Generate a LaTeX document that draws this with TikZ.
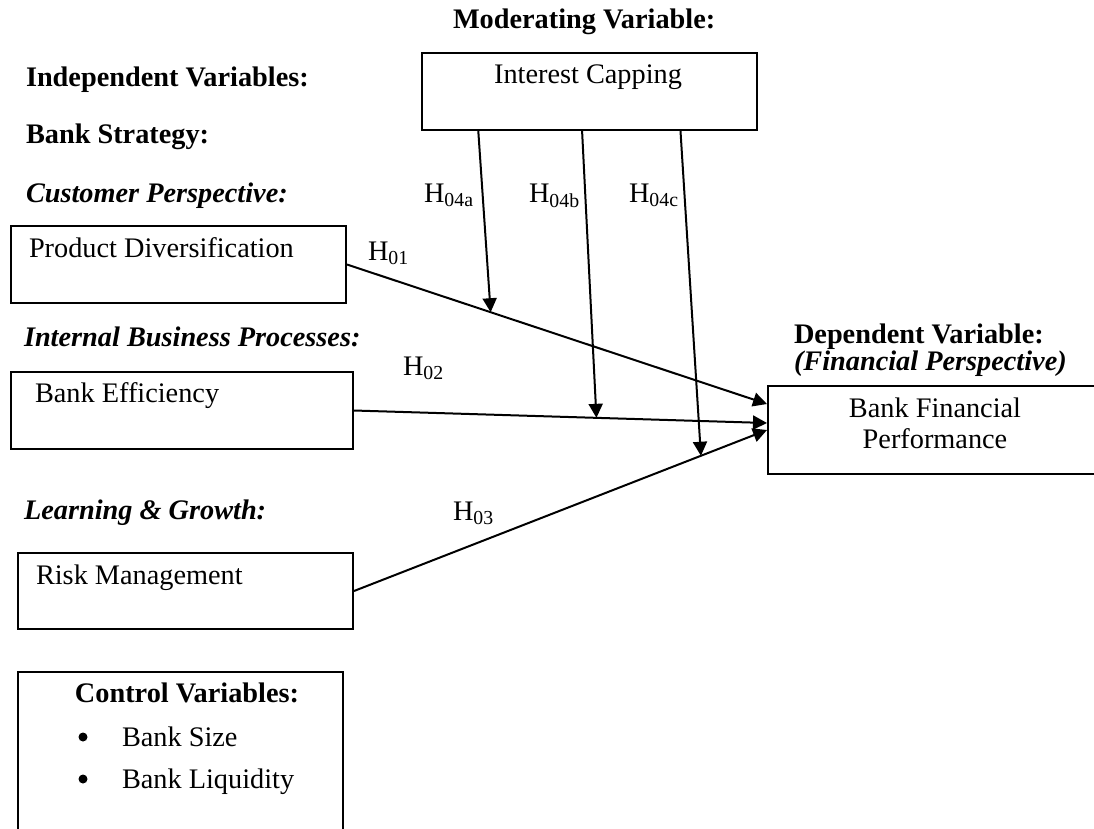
\documentclass[tikz,border=0pt]{standalone}
\usepackage{fontspec}
\setmainfont{Liberation Serif}
\usepackage{tikz}
\usetikzlibrary{arrows.meta, calc}

\begin{document}
\fontsize{28.3}{31}\selectfont
\begin{tikzpicture}[x=1pt, y=-1pt, line width=2pt,
  box/.style={draw, inner sep=0pt, anchor=north west},
  txt/.style={anchor=base west, inner sep=0pt},
  head/.style={txt, font=\bfseries},
  headit/.style={txt, font=\bfseries\itshape},
  dot/.style={circle, fill, inner sep=0pt, minimum size=9pt},
  arr/.style={-{Triangle[length=14pt, width=14pt]}}]
  \path[use as bounding box, clip] (0,0) rectangle (1094,828);

  % headings
  \node[head] (modhead) at (452,28) {Moderating Variable:};
  \node[head] (indhead) at (25,86) {Independent Variables:};
  \node[head] (strathead) at (25,143) {Bank Strategy:};
  \node[headit] (custhead) at (25,202) {Customer Perspective:};
  \node[headit] (prochead) at (23,346) {Internal Business Processes:};
  \node[headit] (learnhead) at (23,519) {Learning \& Growth:};
  \node[txt, align=left, font=\bfseries\fontsize{28.3}{23}\selectfont] (dephead) at (793,370)
    {Dependent Variable:\\\textit{(Financial Perspective)}};

  % boxes
  \node[box, minimum width=335, minimum height=77] (ic) at (421,52) {};
  \node[anchor=base, inner sep=0pt] (ictext) at (588,83) {Interest Capping};
  \node[box, minimum width=335, minimum height=77] (pd) at (10,225) {};
  \node[txt] (pdtext) at (28,257) {Product Diversification};
  \node[box, minimum width=342, minimum height=77] (be) at (10,371) {};
  \node[txt] (betext) at (34,402) {Bank Efficiency};
  \node[box, minimum width=335, minimum height=76] (rm) at (17,552) {};
  \node[txt] (rmtext) at (35,584) {Risk Management};
  \node[box, minimum width=336, minimum height=88] (bfp) at (767,385) {};
  \node[anchor=base, inner sep=0pt] (bfptext1) at (935,417) {Bank Financial};
  \node[anchor=base, inner sep=0pt] (bfptext2) at (935,448) {Performance};

  % control variables (box runs off the bottom)
  \node[box, minimum width=325, minimum height=200] (ctrl) at (17,671) {};
  \node[anchor=base, inner sep=0pt, font=\bfseries] (ctrlhead) at (187,702) {Control Variables:};
  \node[dot] (dot1) at (83,737) {};
  \node[txt] (size) at (121,746) {Bank Size};
  \node[dot] (dot2) at (83,779) {};
  \node[txt] (liq) at (121,788) {Bank Liquidity};

  % direct paths
  \draw[arr] (pd.east) -- coordinate[pos=0.342] (j1) ([yshift=26]bfp.west);
  \draw[arr] (be.east) -- coordinate[pos=0.587] (j2) ([yshift=7]bfp.west);
  \draw[arr] (rm.east) -- coordinate[pos=0.840] (j3) (bfp.west);

  % moderating paths
  \draw[arr] ($(ic.south west)!0.170!(ic.south east)$) -- (j1);
  \draw[arr] ($(ic.south west)!0.478!(ic.south east)$) -- (j2);
  \draw[arr] ($(ic.south west)!0.770!(ic.south east)$) -- (j3);

  % hypotheses
  \node[txt] (h1) at (367,260) {H\textsubscript{01}};
  \node[txt] (h2) at (402,375) {H\textsubscript{02}};
  \node[txt] (h3) at (452,520) {H\textsubscript{03}};
  \node[txt] (h4a) at (423,202) {H\textsubscript{04a}};
  \node[txt] (h4b) at (528,202) {H\textsubscript{04b}};
  \node[txt] (h4c) at (628,202) {H\textsubscript{04c}};
\end{tikzpicture}
\end{document}
